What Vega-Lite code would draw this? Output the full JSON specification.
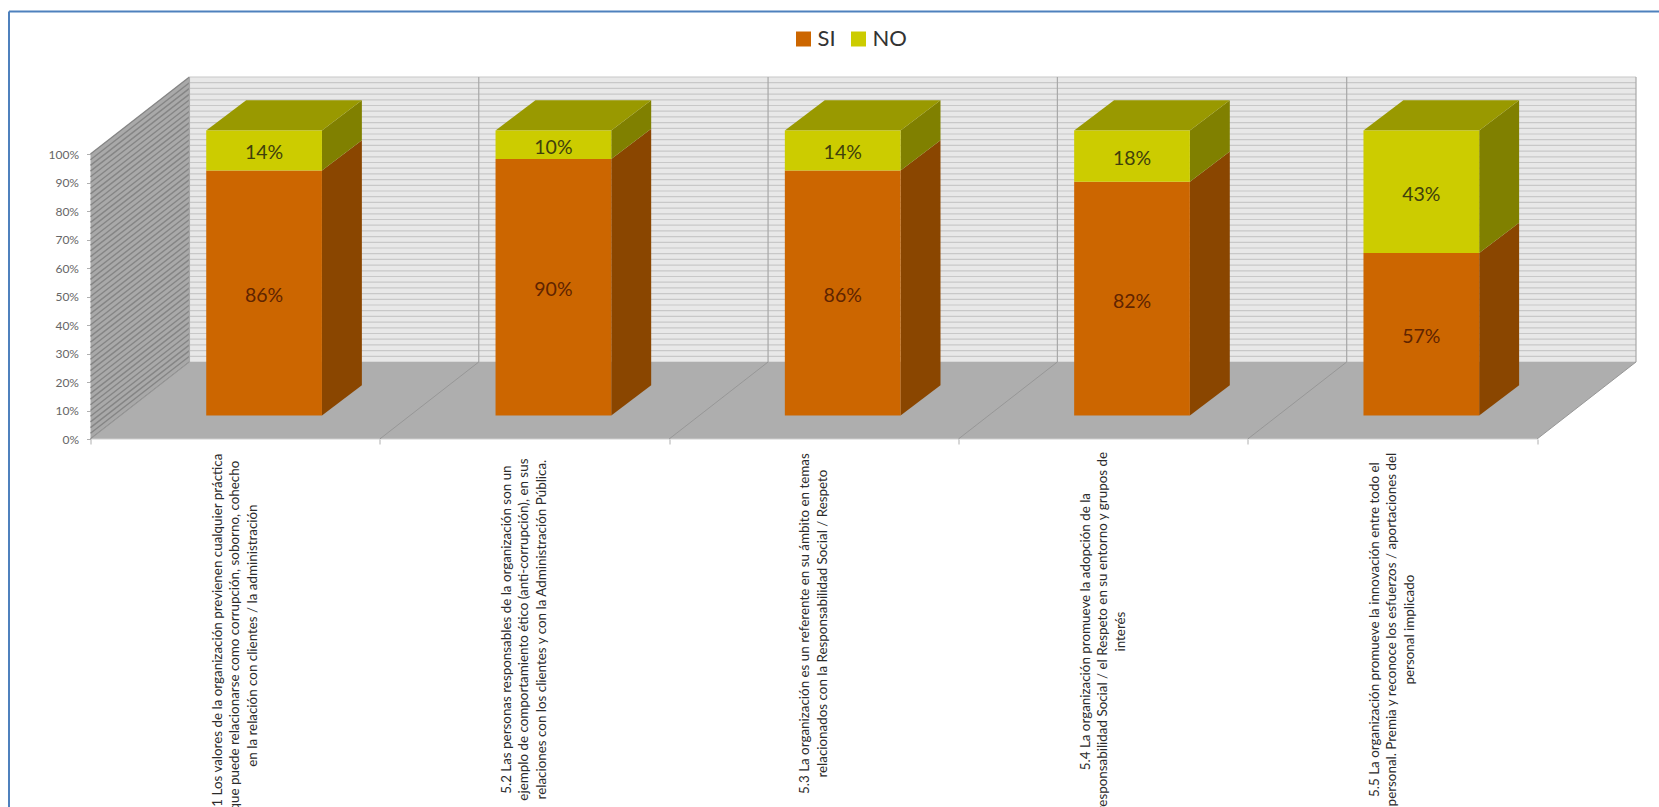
{
  "$schema": "https://vega.github.io/schema/vega-lite/v6.json",
  "autosize": {"type": "none"},
  "padding": {"left": 90.5, "top": 77, "right": 23, "bottom": 368},
  "width": 1545.5,
  "height": 362,
  "background": "#ffffff",
  "config": {"view": {"stroke": null}, "font": "Lato"},
  "params": [
    {"name": "fondoX", "value": 0.342},
    {"name": "fondoY", "value": 27.02},
    {"name": "barraX", "value": 0.138},
    {"name": "barraY", "value": 10.6},
    {"name": "baseY", "value": 8.25},
    {"name": "inicio", "value": 0.4},
    {"name": "ancho", "value": 0.4}
  ],
  "datasets": {
    "respuestas": [
      {"orden": 1, "serie": "SI", "valor": 86},
      {"orden": 1, "serie": "NO", "valor": 14},
      {"orden": 2, "serie": "SI", "valor": 90},
      {"orden": 2, "serie": "NO", "valor": 10},
      {"orden": 3, "serie": "SI", "valor": 86},
      {"orden": 3, "serie": "NO", "valor": 14},
      {"orden": 4, "serie": "SI", "valor": 82},
      {"orden": 4, "serie": "NO", "valor": 18},
      {"orden": 5, "serie": "SI", "valor": 57},
      {"orden": 5, "serie": "NO", "valor": 43}
    ],
    "preguntas": [
      {"orden": 1, "texto": "5.1 Los valores de la organización previenen cualquier práctica|que puede relacionarse como corrupción, soborno, cohecho|en la relación con clientes / la administración"},
      {"orden": 2, "texto": "5.2 Las personas responsables de la organización son un|ejemplo de comportamiento ético (anti-corrupción), en sus|relaciones con los clientes y con la Administración Pública."},
      {"orden": 3, "texto": "5.3 La organización es un referente en su ámbito en temas|relacionados con la Responsabilidad Social / Respeto"},
      {"orden": 4, "texto": "5.4 La organización promueve la adopción de la|responsabilidad Social / el Respeto en su entorno y grupos de|interés"},
      {"orden": 5, "texto": "5.5 La organización promueve la innovación entre todo el|personal. Premia y reconoce los esfuerzos / aportaciones del|personal implicado"}
    ],
    "rejilla": [
      {"pct": 0}, {"pct": 2}, {"pct": 4}, {"pct": 6}, {"pct": 8}, {"pct": 10}, {"pct": 12}, {"pct": 14}, {"pct": 16}, {"pct": 18},
      {"pct": 20}, {"pct": 22}, {"pct": 24}, {"pct": 26}, {"pct": 28}, {"pct": 30}, {"pct": 32}, {"pct": 34}, {"pct": 36}, {"pct": 38},
      {"pct": 40}, {"pct": 42}, {"pct": 44}, {"pct": 46}, {"pct": 48}, {"pct": 50}, {"pct": 52}, {"pct": 54}, {"pct": 56}, {"pct": 58},
      {"pct": 60}, {"pct": 62}, {"pct": 64}, {"pct": 66}, {"pct": 68}, {"pct": 70}, {"pct": 72}, {"pct": 74}, {"pct": 76}, {"pct": 78},
      {"pct": 80}, {"pct": 82}, {"pct": 84}, {"pct": 86}, {"pct": 88}, {"pct": 90}, {"pct": 92}, {"pct": 94}, {"pct": 96}, {"pct": 98}, {"pct": 100}
    ],
    "divisiones": [{"k": 0}, {"k": 1}, {"k": 2}, {"k": 3}, {"k": 4}, {"k": 5}],
    "plano": [{"nombre": "grafico"}]
  },
  "layer": [
    {
      "data": {"name": "plano"},
      "transform": [
        {"calculate": "fondoX", "as": "xa"},
        {"calculate": "5 + fondoX", "as": "xb"},
        {"calculate": "fondoY", "as": "ya"},
        {"calculate": "100 + fondoY", "as": "yb"}
      ],
      "mark": {"type": "rect", "fill": "#e8e8e8"},
      "encoding": {
        "x": {"field": "xa", "type": "quantitative", "title": null,
          "scale": {"domain": [0, 5.342], "nice": false, "zero": false},
          "axis": {"values": [0, 1, 2, 3, 4, 5], "tickCount": 6, "labels": false, "domain": false, "grid": false, "tickColor": "#b0b0b0", "tickSize": 5, "orient": "bottom"}},
        "x2": {"field": "xb"},
        "y": {"field": "ya", "type": "quantitative", "title": null,
          "scale": {"domain": [0, 127.02], "nice": false, "zero": false},
          "axis": {"values": [0, 10, 20, 30, 40, 50, 60, 70, 80, 90, 100], "tickCount": 11, "labelExpr": "datum.value + '%'", "labelOverlap": false, "labelBound": false, "domain": false, "grid": false, "tickColor": "#b0b0b0", "tickSize": 4, "labelPadding": 8, "labelColor": "#666666", "labelFont": "Lato", "labelFontSize": 12, "orient": "left"}},
        "y2": {"field": "yb"}
      }
    },
    {
      "data": {"name": "plano"},
      "transform": [
        {"calculate": "[0, 1]", "as": "d"},
        {"flatten": ["d"]},
        {"calculate": "datum.d * fondoX", "as": "xa"},
        {"calculate": "datum.d * fondoY", "as": "ya"},
        {"calculate": "100 + datum.d * fondoY", "as": "yb"}
      ],
      "mark": {"type": "area", "fill": "#a9a9a9"},
      "encoding": {
        "x": {"field": "xa", "type": "quantitative", "title": null, "scale": {"domain": [0, 5.342], "nice": false, "zero": false}},
        "y": {"field": "ya", "type": "quantitative", "title": null, "scale": {"domain": [0, 127.02], "nice": false, "zero": false}},
        "y2": {"field": "yb"}
      }
    },
    {
      "data": {"name": "rejilla"},
      "transform": [
        {"calculate": "datum.pct + fondoY", "as": "ya"},
        {"calculate": "fondoX", "as": "xa"},
        {"calculate": "5 + fondoX", "as": "xb"}
      ],
      "mark": {"type": "rule", "stroke": "#c8c8c8", "strokeWidth": 1.2},
      "encoding": {
        "x": {"field": "xa", "type": "quantitative", "title": null, "scale": {"domain": [0, 5.342], "nice": false, "zero": false}},
        "x2": {"field": "xb"},
        "y": {"field": "ya", "type": "quantitative", "title": null, "scale": {"domain": [0, 127.02], "nice": false, "zero": false}}
      }
    },
    {
      "data": {"name": "rejilla"},
      "transform": [
        {"calculate": "datum.pct + fondoY", "as": "yb"},
        {"calculate": "fondoX", "as": "xb"},
        {"calculate": "0", "as": "xa"}
      ],
      "mark": {"type": "rule", "stroke": "#858585", "strokeWidth": 1.4},
      "encoding": {
        "x": {"field": "xa", "type": "quantitative", "title": null, "scale": {"domain": [0, 5.342], "nice": false, "zero": false}},
        "x2": {"field": "xb"},
        "y": {"field": "pct", "type": "quantitative", "title": null, "scale": {"domain": [0, 127.02], "nice": false, "zero": false}},
        "y2": {"field": "yb"}
      }
    },
    {
      "data": {"name": "plano"},
      "transform": [
        {"calculate": "[0, 1, 2, 3]", "as": "p"},
        {"flatten": ["p"]},
        {"calculate": "[0, fondoX, 5, 5 + fondoX][datum.p]", "as": "xa"},
        {"calculate": "datum.p == 3 ? fondoY : 0", "as": "ya"},
        {"calculate": "datum.p == 0 ? 0 : fondoY", "as": "yb"}
      ],
      "mark": {"type": "area", "fill": "#aeaeae"},
      "encoding": {
        "x": {"field": "xa", "type": "quantitative", "title": null, "scale": {"domain": [0, 5.342], "nice": false, "zero": false}},
        "y": {"field": "ya", "type": "quantitative", "title": null, "scale": {"domain": [0, 127.02], "nice": false, "zero": false}},
        "y2": {"field": "yb"}
      }
    },
    {
      "data": {"name": "plano"},
      "transform": [
        {"calculate": "0", "as": "xa"},
        {"calculate": "5", "as": "xb"},
        {"calculate": "0", "as": "ya"}
      ],
      "mark": {"type": "rule", "stroke": "#cfcfcf", "strokeWidth": 1},
      "encoding": {
        "x": {"field": "xa", "type": "quantitative", "title": null, "scale": {"domain": [0, 5.342], "nice": false, "zero": false}},
        "x2": {"field": "xb"},
        "y": {"field": "ya", "type": "quantitative", "title": null, "scale": {"domain": [0, 127.02], "nice": false, "zero": false}}
      }
    },
    {
      "data": {"name": "divisiones"},
      "transform": [
        {"calculate": "datum.k + fondoX", "as": "xa"},
        {"calculate": "fondoY", "as": "ya"},
        {"calculate": "100 + fondoY", "as": "yb"}
      ],
      "mark": {"type": "rule", "stroke": "#a8a8a8", "strokeWidth": 1.2},
      "encoding": {
        "x": {"field": "xa", "type": "quantitative", "title": null, "scale": {"domain": [0, 5.342], "nice": false, "zero": false}},
        "y": {"field": "ya", "type": "quantitative", "title": null, "scale": {"domain": [0, 127.02], "nice": false, "zero": false}},
        "y2": {"field": "yb"}
      }
    },
    {
      "data": {"name": "divisiones"},
      "transform": [
        {"calculate": "datum.k + fondoX", "as": "xb"},
        {"calculate": "fondoY", "as": "yb"},
        {"calculate": "0", "as": "ya"}
      ],
      "mark": {"type": "rule", "stroke": "#979797", "strokeWidth": 1},
      "encoding": {
        "x": {"field": "k", "type": "quantitative", "title": null, "scale": {"domain": [0, 5.342], "nice": false, "zero": false}},
        "x2": {"field": "xb"},
        "y": {"field": "ya", "type": "quantitative", "title": null, "scale": {"domain": [0, 127.02], "nice": false, "zero": false}},
        "y2": {"field": "yb"}
      }
    },
    {
      "data": {"name": "respuestas"},
      "transform": [
        {"stack": "valor", "groupby": ["orden"], "sort": [{"field": "serie", "order": "descending"}], "as": ["v0", "v1"]},
        {"calculate": "datum.orden + '-' + datum.serie", "as": "clave"},
        {"calculate": "[0, 1]", "as": "d"},
        {"flatten": ["d"]},
        {"calculate": "datum.orden - 1 + inicio + ancho + datum.d * barraX", "as": "xa"},
        {"calculate": "datum.v0 + baseY + datum.d * barraY", "as": "ya"},
        {"calculate": "datum.v1 + baseY + datum.d * barraY", "as": "yb"}
      ],
      "mark": {"type": "area"},
      "encoding": {
        "x": {"field": "xa", "type": "quantitative", "title": null, "scale": {"domain": [0, 5.342], "nice": false, "zero": false}},
        "y": {"field": "ya", "type": "quantitative", "title": null, "scale": {"domain": [0, 127.02], "nice": false, "zero": false}},
        "y2": {"field": "yb"},
        "detail": {"field": "clave"},
        "color": {"condition": {"test": "datum.serie === 'SI'", "value": "#8a4600"}, "value": "#808000"}
      }
    },
    {
      "data": {"name": "respuestas"},
      "transform": [
        {"filter": "datum.serie === 'NO'"},
        {"calculate": "[0, 1, 2, 3]", "as": "p"},
        {"flatten": ["p"]},
        {"calculate": "datum.orden - 1 + inicio + [0, barraX, ancho, ancho + barraX][datum.p]", "as": "xa"},
        {"calculate": "100 + baseY + (datum.p == 3 ? barraY : 0)", "as": "ya"},
        {"calculate": "100 + baseY + (datum.p == 0 ? 0 : barraY)", "as": "yb"}
      ],
      "mark": {"type": "area", "fill": "#999900"},
      "encoding": {
        "x": {"field": "xa", "type": "quantitative", "title": null, "scale": {"domain": [0, 5.342], "nice": false, "zero": false}},
        "y": {"field": "ya", "type": "quantitative", "title": null, "scale": {"domain": [0, 127.02], "nice": false, "zero": false}},
        "y2": {"field": "yb"},
        "detail": {"field": "orden"}
      }
    },
    {
      "data": {"name": "respuestas"},
      "transform": [
        {"stack": "valor", "groupby": ["orden"], "sort": [{"field": "serie", "order": "descending"}], "as": ["v0", "v1"]},
        {"calculate": "datum.orden - 1 + inicio", "as": "xa"},
        {"calculate": "datum.xa + ancho", "as": "xb"},
        {"calculate": "datum.v0 + baseY", "as": "ya"},
        {"calculate": "datum.v1 + baseY", "as": "yb"}
      ],
      "mark": {"type": "rect"},
      "encoding": {
        "x": {"field": "xa", "type": "quantitative", "title": null, "scale": {"domain": [0, 5.342], "nice": false, "zero": false}},
        "x2": {"field": "xb"},
        "y": {"field": "ya", "type": "quantitative", "title": null, "scale": {"domain": [0, 127.02], "nice": false, "zero": false}},
        "y2": {"field": "yb"},
        "color": {
          "field": "serie", "type": "nominal", "title": null,
          "scale": {"domain": ["SI", "NO"], "range": ["#cc6600", "#cccc00"]},
          "legend": {
            "orient": "none", "legendX": 702, "legendY": -49, "direction": "horizontal", "columns": 2,
            "symbolType": "square", "symbolSize": 225, "symbolStrokeWidth": 0, "symbolOpacity": 1,
            "labelFont": "Lato", "labelFontSize": 22, "labelColor": "#333333", "labelOffset": 3, "columnPadding": 11, "rowPadding": 0, "padding": 0
          }
        }
      }
    },
    {
      "data": {"name": "respuestas"},
      "transform": [
        {"stack": "valor", "groupby": ["orden"], "sort": [{"field": "serie", "order": "descending"}], "as": ["v0", "v1"]},
        {"calculate": "datum.orden - 1 + inicio + ancho / 2", "as": "xa"},
        {"calculate": "(datum.v0 + datum.v1) / 2 + baseY", "as": "ya"},
        {"calculate": "datum.valor + '%'", "as": "rotulo"}
      ],
      "mark": {"type": "text", "font": "Lato", "fontSize": 19.5, "baseline": "middle", "align": "center", "dy": 3},
      "encoding": {
        "x": {"field": "xa", "type": "quantitative", "title": null, "scale": {"domain": [0, 5.342], "nice": false, "zero": false}},
        "y": {"field": "ya", "type": "quantitative", "title": null, "scale": {"domain": [0, 127.02], "nice": false, "zero": false}},
        "text": {"field": "rotulo", "type": "nominal"},
        "color": {"condition": {"test": "datum.serie === 'SI'", "value": "#5f2400"}, "value": "#40400c"}
      }
    },
    {
      "data": {"name": "preguntas"},
      "transform": [
        {"calculate": "split(datum.texto, '|')", "as": "lineas"},
        {"calculate": "datum.orden - 0.5 - (length(datum.lineas) - 1) * 0.03025", "as": "xa"},
        {"calculate": "max(length(datum.lineas[0]), length(datum.lineas[1]), length(datum.lineas[2] || ''))", "as": "larga"},
        {"calculate": "-24.77 - 0.7018 * datum.larga", "as": "ya"}
      ],
      "mark": {"type": "text", "font": "Lato", "fontSize": 13.4, "angle": 270, "align": "center", "baseline": "middle", "lineBreak": "|", "lineHeight": 17.5, "color": "#2b2b2b"},
      "encoding": {
        "x": {"field": "xa", "type": "quantitative", "title": null, "scale": {"domain": [0, 5.342], "nice": false, "zero": false}},
        "y": {"field": "ya", "type": "quantitative", "title": null, "scale": {"domain": [0, 127.02], "nice": false, "zero": false}},
        "text": {"field": "texto", "type": "nominal"}
      }
    },
    {
      "data": {"name": "plano"},
      "transform": [
        {"calculate": "-0.2817", "as": "xa"},
        {"calculate": "150", "as": "ya"},
        {"calculate": "-129.2", "as": "yb"}
      ],
      "mark": {"type": "rule", "stroke": "#4f81bd", "strokeWidth": 2},
      "encoding": {
        "x": {"field": "xa", "type": "quantitative", "title": null, "scale": {"domain": [0, 5.342], "nice": false, "zero": false}},
        "y": {"field": "ya", "type": "quantitative", "title": null, "scale": {"domain": [0, 127.02], "nice": false, "zero": false}},
        "y2": {"field": "yb"}
      }
    },
    {
      "data": {"name": "plano"},
      "transform": [
        {"calculate": "-0.2817", "as": "xa"},
        {"calculate": "5.4216", "as": "xb"},
        {"calculate": "150", "as": "ya"}
      ],
      "mark": {"type": "rule", "stroke": "#4f81bd", "strokeWidth": 2},
      "encoding": {
        "x": {"field": "xa", "type": "quantitative", "title": null, "scale": {"domain": [0, 5.342], "nice": false, "zero": false}},
        "x2": {"field": "xb"},
        "y": {"field": "ya", "type": "quantitative", "title": null, "scale": {"domain": [0, 127.02], "nice": false, "zero": false}}
      }
    }
  ]
}
